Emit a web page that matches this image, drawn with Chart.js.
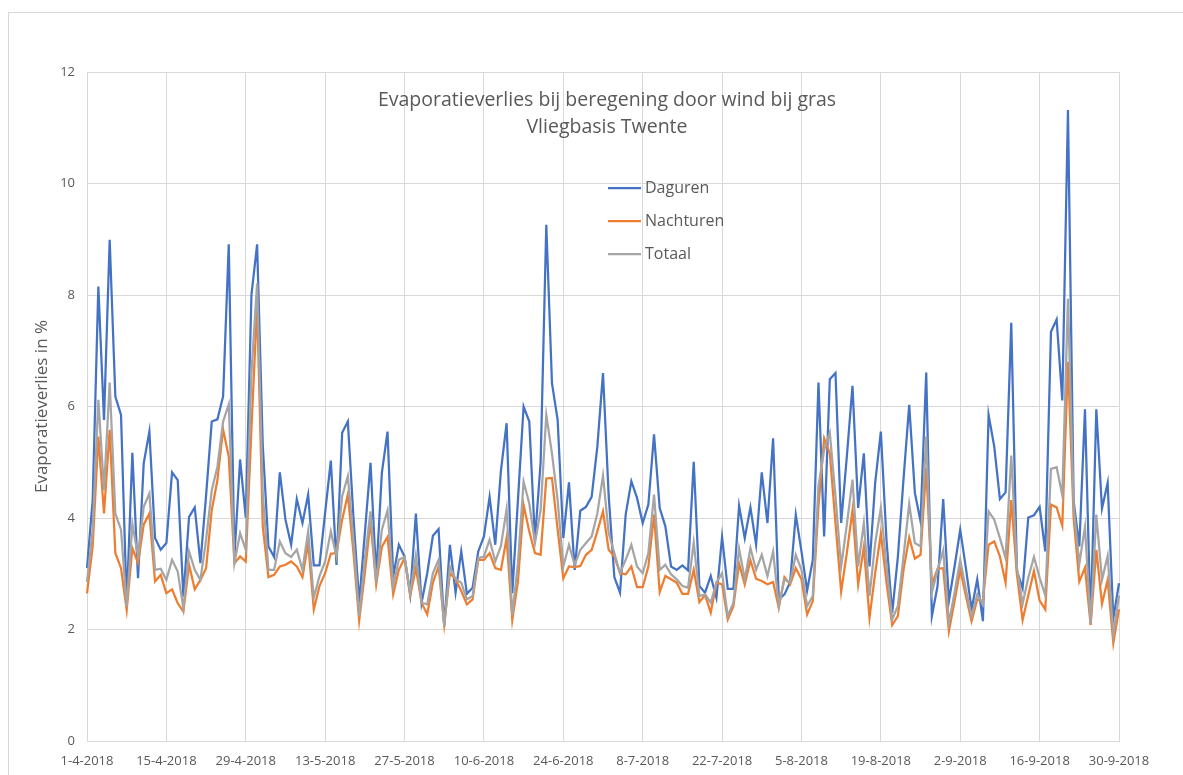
<!DOCTYPE html>
<html>
<head>
<meta charset="utf-8">
<script src="https://cdn.jsdelivr.net/npm/chart.js@4.4.0/dist/chart.umd.min.js"></script>
<style>
  body { margin: 0; background: #fff; overflow: hidden; }
  #wrap { position: relative; width: 1183px; height: 775px; }
  #frame { position: absolute; left: 8px; top: 12px; width: 1200px; height: 800px; border: 1px solid #d9d9d9; }
  #chart { position: absolute; left: 0; top: 0; }
</style>
</head>
<body>
<div id="wrap">
  <div id="frame"></div>
  <canvas id="chart" width="1183" height="775"></canvas>
</div>
<script>
// daily values 1-4-2018 .. 30-9-2018
const daguren = [
  3.10, 4.32, 8.15, 5.76, 8.99, 6.18, 5.85, 2.45, 5.17, 2.92,
  4.98, 5.55, 3.64, 3.43, 3.55, 4.82, 4.68, 2.59, 4.02, 4.19,
  3.19, 4.40, 5.73, 5.77, 6.18, 8.91, 3.31, 5.05, 4.00, 8.00,
  8.91, 5.30, 3.49, 3.30, 4.82, 3.97, 3.52, 4.34, 3.91, 4.42,
  3.15, 3.15, 4.10, 5.03, 3.16, 5.53, 5.73, 4.00, 2.48, 3.73,
  4.99, 2.96, 4.81, 5.55, 2.95, 3.52, 3.31, 2.63, 4.08, 2.48,
  3.01, 3.68, 3.80, 2.06, 3.52, 2.66, 3.40, 2.64, 2.75, 3.40,
  3.67, 4.38, 3.52, 4.85, 5.70, 2.65, 4.32, 6.00, 5.73, 3.61,
  5.00, 9.26, 6.42, 5.76, 3.64, 4.64, 3.07, 4.13, 4.20, 4.38,
  5.28, 6.60, 4.40, 2.94, 2.66, 4.06, 4.66, 4.36, 3.91, 4.24,
  5.50, 4.18, 3.85, 3.13, 3.07, 3.15, 3.06, 5.01, 2.78, 2.66,
  2.96, 2.57, 3.66, 2.73, 2.73, 4.22, 3.64, 4.19, 3.52, 4.82,
  3.91, 5.43, 2.54, 2.63, 2.85, 4.06, 3.40, 2.70, 3.25, 6.43,
  3.67, 6.49, 6.60, 3.91, 5.10, 6.37, 4.18, 5.16, 3.13, 4.63,
  5.55, 3.60, 2.30, 3.30, 4.70, 6.03, 4.45, 3.94, 6.61, 2.24,
  2.78, 4.34, 2.51, 3.13, 3.79, 3.10, 2.36, 2.90, 2.15, 5.85,
  5.28, 4.34, 4.46, 7.50, 3.05, 2.74, 4.01, 4.05, 4.20, 3.40,
  7.34, 7.56, 6.11, 11.32, 4.30, 3.49, 5.95, 2.11, 5.95, 4.17,
  4.63, 2.20, 2.83
];
const nachturen = [
  2.65, 3.49, 5.46, 4.08, 5.58, 3.37, 3.10, 2.35, 3.46, 3.19,
  3.88, 4.08, 2.86, 2.98, 2.65, 2.72, 2.47, 2.32, 3.16, 2.72,
  2.89, 3.10, 4.14, 4.68, 5.59, 5.10, 3.19, 3.31, 3.22, 5.60,
  7.82, 3.85, 2.94, 2.98, 3.13, 3.16, 3.22, 3.13, 2.94, 3.55,
  2.36, 2.78, 3.01, 3.36, 3.37, 3.97, 4.42, 3.37, 2.16, 3.01,
  3.94, 2.81, 3.48, 3.66, 2.63, 3.07, 3.28, 2.61, 3.10, 2.48,
  2.27, 2.84, 3.13, 2.09, 3.01, 2.90, 2.69, 2.45, 2.54, 3.25,
  3.25, 3.37, 3.10, 3.07, 3.64, 2.17, 2.86, 4.23, 3.76, 3.37,
  3.34, 4.71, 4.72, 3.79, 2.92, 3.13, 3.12, 3.14, 3.34, 3.43,
  3.76, 4.12, 3.43, 3.31, 3.01, 2.99, 3.13, 2.76, 2.76, 3.13,
  4.06, 2.67, 2.96, 2.90, 2.84, 2.64, 2.64, 3.07, 2.49, 2.62,
  2.30, 2.84, 2.81, 2.18, 2.42, 3.18, 2.81, 3.24, 2.91, 2.87,
  2.81, 2.85, 2.39, 2.94, 2.81, 3.10, 2.90, 2.27, 2.51, 4.21,
  5.43, 5.16, 3.91, 2.68, 3.37, 4.14, 2.81, 3.48, 2.21, 3.01,
  3.72, 2.84, 2.08, 2.24, 3.07, 3.65, 3.27, 3.34, 4.90, 2.81,
  3.09, 3.10, 1.97, 2.51, 3.07, 2.60, 2.15, 2.54, 2.51, 3.52,
  3.58, 3.31, 2.84, 4.32, 2.99, 2.17, 2.61, 3.05, 2.52, 2.36,
  4.24, 4.19, 3.86, 6.80, 4.00, 2.86, 3.11, 2.08, 3.43, 2.46,
  2.89, 1.76, 2.36
];
const totaal = [
  2.85, 3.79, 6.12, 4.50, 6.43, 4.08, 3.79, 2.41, 3.89, 3.31,
  4.20, 4.44, 3.07, 3.09, 2.89, 3.25, 3.04, 2.38, 3.40, 3.07,
  2.89, 3.61, 4.50, 4.92, 5.73, 6.04, 3.19, 3.73, 3.43, 6.60,
  8.21, 4.44, 3.07, 3.07, 3.58, 3.37, 3.30, 3.43, 3.07, 3.76,
  2.57, 2.96, 3.22, 3.76, 3.31, 4.39, 4.75, 3.60, 2.24, 3.25,
  4.12, 2.84, 3.79, 4.14, 2.78, 3.25, 3.30, 2.66, 3.33, 2.48,
  2.45, 3.01, 3.25, 2.06, 3.13, 2.90, 2.84, 2.54, 2.60, 3.28,
  3.31, 3.61, 3.22, 3.50, 4.16, 2.26, 3.19, 4.65, 4.26, 3.55,
  4.14, 5.85, 5.16, 4.32, 3.13, 3.52, 3.16, 3.43, 3.55, 3.67,
  4.08, 4.76, 3.73, 3.37, 3.01, 3.25, 3.52, 3.13, 3.01, 3.37,
  4.42, 3.07, 3.16, 2.99, 2.90, 2.78, 2.75, 3.56, 2.60, 2.63,
  2.48, 2.84, 3.01, 2.24, 2.48, 3.45, 2.90, 3.46, 3.07, 3.34,
  2.96, 3.40, 2.42, 2.90, 2.84, 3.34, 3.07, 2.42, 2.60, 4.57,
  5.22, 5.53, 4.39, 3.13, 3.88, 4.69, 3.13, 3.91, 2.60, 3.55,
  4.18, 3.13, 2.18, 2.42, 3.31, 4.25, 3.55, 3.49, 5.46, 2.66,
  3.07, 3.42, 2.12, 2.66, 3.25, 2.72, 2.24, 2.63, 2.45, 4.12,
  3.97, 3.64, 3.28, 5.12, 3.11, 2.46, 2.93, 3.30, 2.93, 2.61,
  4.88, 4.91, 4.41, 7.93, 4.20, 3.18, 3.84, 2.11, 4.06, 2.89,
  3.32, 1.92, 2.61
];

// categories: one label per day, shown every 14 days
const dates = [];
for (let i = 0; i < daguren.length; i++) {
    const d = new Date(Date.UTC(2018, 3, 1 + i));
    dates.push(d.getUTCDate() + '-' + (d.getUTCMonth() + 1) + '-' + d.getUTCFullYear());
}
const tickEvery = 14;

const titleLines = ['Evaporatieverlies bij beregening door wind bij gras', 'Vliegbasis Twente'];
const textColor = '#595959';
const fontFamily = '"Open Sans", "Segoe UI", sans-serif';

// title + legend sit inside the plot area, like the Excel original
const overlay = {
    id: 'overlay',
    afterDraw(chart) {
        const c = chart.ctx;
        c.save();
        c.fillStyle = textColor;
        c.textAlign = 'center';
        c.textBaseline = 'middle';
        c.font = '19.5px ' + fontFamily;
        c.fillText(titleLines[0], 607, 100);
        c.fillText(titleLines[1], 607, 127);

        c.textAlign = 'left';
        c.font = '16px ' + fontFamily;
        chart.data.datasets.forEach((ds, i) => {
            const y = 188 + i * 33;
            c.strokeStyle = ds.borderColor;
            c.lineWidth = 2.25;
            c.beginPath();
            c.moveTo(608, y);
            c.lineTo(641, y);
            c.stroke();
            c.fillText(ds.label, 645, y);
        });
        c.restore();
    }
};

const ctx = document.getElementById('chart').getContext('2d');
const chart = new Chart(ctx, {
    type: 'line',
    data: {
        labels: dates,
        datasets: [
            { label: 'Daguren', data: daguren, borderColor: '#4472c4', order: 3 },
            { label: 'Nachturen', data: nachturen, borderColor: '#ed7d31', order: 2 },
            { label: 'Totaal', data: totaal, borderColor: '#a5a5a5', order: 1 }
        ]
    },
    options: {
        responsive: false,
        animation: false,
        layout: { padding: { left: 0, top: 72, right: 64, bottom: 0 } },
        elements: {
            point: { radius: 0 },
            line: { borderWidth: 2.25, tension: 0 }
        },
        plugins: {
            legend: { display: false },
            title: { display: false },
            tooltip: { enabled: false }
        },
        scales: {
            x: {
                afterFit: s => { s.height = 34; },
                afterBuildTicks: s => { s.ticks = s.ticks.filter((t, i) => i % tickEvery === 0); },
                grid: { color: '#d9d9d9', drawTicks: false },
                border: { color: '#d9d9d9' },
                ticks: {
                    autoSkip: false, maxRotation: 0, padding: 12,
                    color: textColor, font: { family: fontFamily, size: 13 }
                }
            },
            y: {
                min: 0, max: 12,
                afterFit: s => { s.width = 87; },
                grid: { color: '#d9d9d9', drawTicks: false },
                border: { display: false },
                ticks: {
                    stepSize: 2, padding: 12,
                    color: textColor, font: { family: fontFamily, size: 13 }
                },
                title: {
                    display: true, text: 'Evaporatieverlies in %',
                    color: textColor, font: { family: fontFamily, size: 17 },
                    padding: { top: 32, bottom: 0 }
                }
            }
        }
    },
    plugins: [overlay]
});
</script>
</body>
</html>
